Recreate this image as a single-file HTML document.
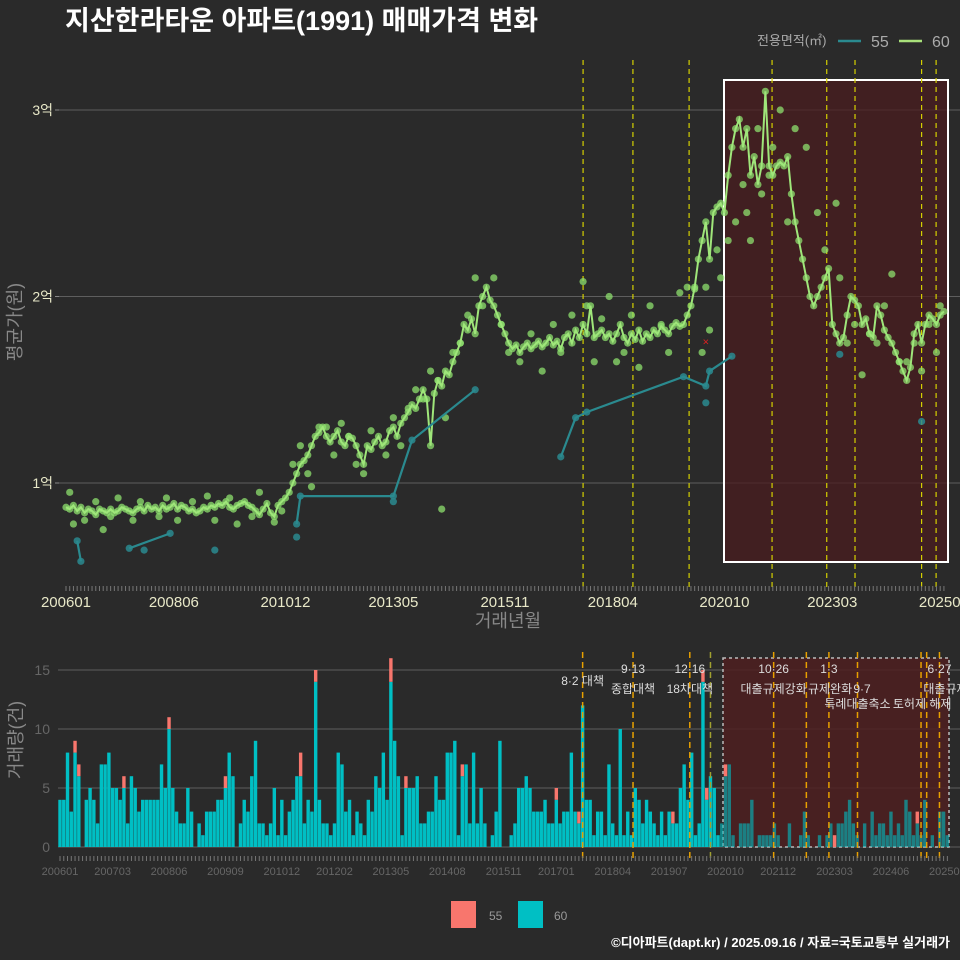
<!DOCTYPE html>
<html><head><meta charset="utf-8">
<style>
html,body{margin:0;padding:0;background:#2a2a2a;}
svg{display:block;font-family:"Liberation Sans","Noto Sans CJK KR",sans-serif;}
</style></head>
<body>
<svg id="chart" width="960" height="960" viewBox="0 0 960 960" xmlns="http://www.w3.org/2000/svg">
<rect x="0" y="0" width="960" height="960" fill="#2a2a2a"/>
<text x="65" y="30" fill="#ffffff" font-size="27" font-weight="bold">지산한라타운 아파트(1991) 매매가격 변화</text>
<g id="topPanel"></g>
<g id="botPanel"></g>
<g>
<text x="757" y="45" fill="#aaaaaa" font-size="13">전용면적(㎡)</text>
<line x1="838" y1="41" x2="861" y2="41" stroke="#2a8a8f" stroke-width="2.5"/>
<text x="871" y="47" fill="#aaaaaa" font-size="16">55</text>
<line x1="899" y1="41" x2="922" y2="41" stroke="#a8e07a" stroke-width="2.5"/>
<text x="932" y="47" fill="#aaaaaa" font-size="16">60</text>
</g>
<g>
<rect x="451" y="901" width="25" height="27" fill="#f8766d"/>
<text x="489" y="920" fill="#999" font-size="12">55</text>
<rect x="518" y="901" width="25" height="27" fill="#00bfc4"/>
<text x="554" y="920" fill="#999" font-size="12">60</text>
</g>
<text x="950" y="947" text-anchor="end" fill="#ffffff" font-size="13" font-weight="bold">©디아파트(dapt.kr) / 2025.09.16 / 자료=국토교통부 실거래가</text>
</svg>
<script>
// ---- data ----
const price60 = [
.87,.86,.88,.85,.87,.84,.86,.85,.83,.86,.85,.84,
.86,.84,.85,.87,.86,.85,.84,.86,.87,.85,.88,.86,
.87,.85,.88,.86,.87,.89,.86,.88,.87,.85,.86,.84,
.85,.87,.86,.88,.87,.89,.88,.90,.87,.86,.88,.89,
.90,.88,.87,.85,.83,.86,.89,.84,.82,.88,.90,.92,
.95,1.0,1.05,1.1,1.12,1.15,1.2,1.25,1.27,1.3,1.25,1.22,
1.25,1.28,1.22,1.2,1.25,1.24,1.2,1.15,1.1,1.2,1.18,1.22,
1.25,1.2,1.22,1.28,1.3,1.25,1.32,1.35,1.38,1.42,1.4,1.45,
1.5,1.45,1.2,1.48,1.55,1.52,1.6,1.58,1.65,1.7,1.75,1.85,
1.82,1.88,1.8,1.95,2.0,2.05,1.98,1.95,1.9,1.85,1.8,1.75,
1.72,1.74,1.7,1.73,1.75,1.72,1.74,1.76,1.73,1.75,1.78,1.74,
1.76,1.72,1.78,1.8,1.75,1.82,1.78,1.85,1.8,1.95,1.78,1.8,
1.82,1.78,1.8,1.76,1.8,1.85,1.78,1.75,1.8,1.77,1.82,1.76,
1.8,1.78,1.82,1.8,1.84,1.82,1.8,1.84,1.86,1.84,1.85,1.9,
1.95,2.05,2.2,2.3,2.4,2.2,2.45,2.48,2.5,2.45,2.65,2.8,
2.9,2.95,2.8,2.9,2.65,2.75,2.6,2.7,3.1,2.7,2.65,2.7,
2.72,2.7,2.75,2.55,2.4,2.3,2.2,2.1,2.0,1.95,2.0,2.05,
2.1,2.15,1.85,1.8,1.75,1.78,1.9,2.0,1.98,1.95,1.85,1.88,
1.8,1.78,1.95,1.9,1.82,1.78,1.75,1.7,1.65,1.6,1.55,1.62,
1.8,1.85,1.75,1.85,1.9,1.88,1.85,1.9,1.92];
const scatter60 = [[1,.95],[2,.78],[5,.8],[8,.9],[10,.75],[12,.82],[14,.92],[18,.8],[20,.9],[25,.82],[27,.92],[30,.8],[34,.9],[38,.93],[40,.8],[44,.92],[46,.78],[50,.82],[52,.95],[56,.79],[58,.85],
[61,1.1],[63,1.2],[65,1.05],[66,.98],[68,1.3],[70,1.3],[72,1.15],[74,1.32],[76,1.25],[78,1.1],[80,1.05],[82,1.28],[86,1.15],[88,1.35],[90,1.2],[92,1.4],[94,1.5],[96,1.45],[98,1.6],[100,1.55],[101,.86],[102,1.35],[104,1.7],[106,1.75],[108,1.9],[110,2.1],[112,1.95],[115,2.1],[117,1.85],[119,1.7],
[122,1.65],[125,1.8],[128,1.6],[131,1.85],[133,1.7],[136,1.9],[139,2.08],[140,1.95],[142,1.65],[144,1.88],[146,2.0],[148,1.65],[150,1.7],[152,1.9],[154,1.62],[157,1.95],[160,1.85],[162,1.7],[165,2.02],[167,2.05],[169,2.04],[171,1.7],[172,2.05],[173,1.82],
[175,2.25],[176,2.1],[178,2.3],[180,2.4],[182,2.6],[183,2.45],[184,2.3],[186,2.9],[187,2.55],[189,2.65],[190,2.8],[192,3.0],[194,2.4],[196,2.9],[199,2.8],[202,2.45],[204,2.25],[207,2.5],[208,2.1],[210,1.75],[212,1.85],[214,1.58],[216,1.8],[218,1.75],[220,1.95],[222,2.12],[224,1.65],[226,1.65],[228,1.75],[230,1.6],[232,1.85],[234,1.7],[235,1.95]];
const series55 = [[3,.69],[4,.58],null,[17,.65],[28,.73],null,[62,.78],[63,.93],[88,.93],[93,1.23],[110,1.5],null,[133,1.14],[137,1.35],[140,1.38],[166,1.57],[172,1.52],[173,1.6],[179,1.68]];
const scatter55 = [[21,.64],[40,.64],[62,.71],[88,.9],[172,1.43],[208,1.69],[230,1.33]];
const redMark = [[172,1.76]];
const priceTicks = [1,2,3];
const priceTickLabels = ["1억","2억","3억"];
const xTickLabels = ["200601","200806","201012","201305","201511","201804","202010","202303","202509"];
const xTickMonths = [0,29,59,88,118,147,177,206,236];
const volTeal = [
4,4,8,3,8,6,0,4,5,4,2,7, 7,8,5,5,4,5,2,6,5,3,4,4, 4,4,4,7,5,10,5,3,2,2,5,3,
0,2,1,3,3,3,4,4,5,8,6,0, 2,4,3,6,9,2,2,1,2,5,1,4, 1,3,4,6,6,2,4,3,14,4,2,2,
1,2,8,7,3,4,1,3,2,1,4,3, 6,5,8,4,14,9,6,1,5,5,5,6, 2,2,3,3,6,
4,4,8,8,9,1,6,7,2,8,2,5,2,0,1,3,9,0,0,1,2,5,5,6,5,3,3,3,4,2,2,4,2,3,3,8,3,2,
12,4,4,1,3,3,1,7,2,1,10,1,3,1,5,4,2,4,3,2,1,3,1,3,2,2,5,7,4,8,1,2,14,4,6,5,1,2,6,7,
1,0,2,2,2,4,0,1,1,1,1,2,1,0,0,2,0,0,1,3,1,0,0,1,0,1,2,0,2,2,3,4,2,1,0,2,0,3,1,2,2,1,3,1,2,1,4,3,1,2,1,4,0,1,0,3,3,1];
const volRed = [[4,1],[5,1],[17,1],[29,1],[44,1],[64,2],[68,1],[88,2],[92,1],[107,1],[132,1],[138,1],[163,1],[171,1],[172,1],[177,1],[206,1],[228,1]];
const volTicks = [0,5,10,15];
const volTickLabels = ["200601","200703","200806","200909","201012","201202","201305","201408","201511","201701","201804","201907","202010","202112","202303","202406","202509"];
const volTickMonths = [0,14,29,44,59,73,88,103,118,132,147,162,177,191,206,221,236];
const events = [139.0,152.4,167.5,189.8,204.5,212.1,230.0,233.9];
const eventsBottom = [139.0,152.4,167.5,173.0,189.8,198.5,204.5,212.1,229.0,230.5,233.9];
const annotations = [[139.0,680,"8·2 대책"],[152.4,668,"9·13"],[152.4,688,"종합대책"],[167.5,668,"12·16"],[167.5,688,"18차대책"],[189.8,668,"10·26"],[189.8,688,"대출규제강화"],[204.5,668,"1·3"],[204.8,688,"규제완화"],[213.3,688,"9·7"],[212.1,703,"특례대출축소"],[229.3,703,"토허제 해제"],[233.9,668,"6·27"],[235.5,688,"대출규제"]];

// ---- helpers ----
const NS="http://www.w3.org/2000/svg";
function mk(parent,tag,attrs){const e=document.createElementNS(NS,tag);for(const k in attrs)e.setAttribute(k,attrs[k]);parent.appendChild(e);return e;}
const topG=document.getElementById('topPanel'), botG=document.getElementById('botPanel');
const xT=i=>66+3.72*i, yT=v=>483-(v-1)*186.5;
const xB=i=>60+3.76*i, yB=v=>847-v*11.8;

// ---- top panel ----
priceTicks.forEach((t,k)=>{
 let g=mk(topG,'line',{x1:58,x2:960,y1:yT(t),y2:yT(t),stroke:'#5e5e5e','stroke-width':1});
 
 
 let tk=mk(topG,'line',{x1:55,x2:59,y1:yT(t),y2:yT(t),stroke:'#888'});
 
 
 let tx=mk(topG,'text',{x:53,y:yT(t)+5,'text-anchor':'end',fill:'#e8e8c8','font-size':14});
 tx.textContent=priceTickLabels[k];
 
 
});
let hb=mk(topG,'rect',{x:724,y:80,width:224,height:482,fill:'#4a1c1f',"fill-opacity":0.75,stroke:'#ffffff','stroke-width':2});


events.forEach(e=>{
 let l=mk(topG,'line',{x1:xT(e),x2:xT(e),y1:60,y2:590,stroke:'#d4d000','stroke-width':1.2,'stroke-dasharray':'5,4'});
 
 
});
for(let i=0;i<237;i++){
 let t=mk(topG,'line',{x1:xT(i),x2:xT(i),y1:586,y2:591,stroke:'#777','stroke-width':1});
 
 
}
xTickLabels.forEach((s,k)=>{
 let tx=mk(topG,'text',{x:xT(xTickMonths[k]),y:607,'text-anchor':'middle',fill:'#e8e8c8','font-size':15});
 tx.textContent=s;
 
 
});
let xt=mk(topG,'text',{x:508,y:627,'text-anchor':'middle',fill:'#888','font-size':18});
xt.textContent='거래년월';


let yt=mk(topG,'text',{x:0,y:0,'text-anchor':'middle',fill:'#888','font-size':18,transform:'translate(21,322) rotate(-90)'});
yt.textContent='평균가(원)';


scatter60.concat(price60.map((v,i)=>[i,v])).forEach(p=>{
 let c=mk(topG,'circle',{cx:xT(p[0]),cy:yT(p[1]),r:3.6,fill:'#8ee06e','fill-opacity':0.75});
 
 
});
let d='';price60.forEach((v,i)=>{d+=(i?'L':'M')+xT(i).toFixed(1)+','+yT(v).toFixed(1);});
let pl=mk(topG,'path',{d:d,fill:'none',stroke:'#9fe67a','stroke-width':2});


let d5='',pen=false;
series55.forEach(p=>{ if(!p){pen=false;return;} d5+=(pen?'L':'M')+xT(p[0]).toFixed(1)+','+yT(p[1]).toFixed(1); pen=true;});
let l5=mk(topG,'path',{d:d5,fill:'none',stroke:'#2a8a8f','stroke-width':2.2});


series55.filter(p=>p).concat(scatter55).forEach(p=>{
 let c=mk(topG,'circle',{cx:xT(p[0]),cy:yT(p[1]),r:3.6,fill:'#2a8a8f','fill-opacity':0.85});
 
 
});
redMark.forEach(p=>{
 let t=mk(topG,'text',{x:xT(p[0]),y:yT(p[1])+4,'text-anchor':'middle',fill:'#e02020','font-size':11});
 t.textContent='×';
 
 
});

// ---- bottom panel ----
volTicks.forEach(t=>{
 let g=mk(botG,'line',{x1:58,x2:960,y1:yB(t),y2:yB(t),stroke:'#5e5e5e'});
 
 
 let tx=mk(botG,'text',{x:50,y:yB(t)+5,'text-anchor':'end',fill:'#666','font-size':14});
 tx.textContent=String(t);
 
 
});
let hb2=mk(botG,'rect',{x:723,y:658,width:226,height:189,fill:'#4e1f20',"fill-opacity":0.85,stroke:'#bbbbbb','stroke-width':1.5,'stroke-dasharray':'3,3'});


volTeal.forEach((v,i)=>{
 let r=mk(botG,'rect',{x:xB(i)-1.7,y:yB(v),width:3.4,height:v*11.8,fill:'#00bfc4','fill-opacity':i>=176?0.6:1});
 
 
});
volRed.forEach(p=>{
 const base=volTeal[p[0]];
 let r=mk(botG,'rect',{x:xB(p[0])-1.7,y:yB(base+p[1]),width:3.4,height:p[1]*11.8,fill:'#f8766d'});
 
 
});
eventsBottom.forEach((e,k)=>{
 let l=mk(botG,'line',{x1:xB(e),x2:xB(e),y1:652,y2:858,stroke:k==3?'#a0a030':'#e8a000','stroke-width':1.5,'stroke-dasharray':'6,4'});
 
 
});
for(let i=0;i<237;i++){
 let t=mk(botG,'line',{x1:xB(i),x2:xB(i),y1:856,y2:861,stroke:'#777'});
 
 
}
volTickLabels.forEach((s,k)=>{
 let tx=mk(botG,'text',{x:xB(volTickMonths[k]),y:875,'text-anchor':'middle',fill:'#666','font-size':11});
 tx.textContent=s;
 
 
});
annotations.forEach(a=>{
 let tx=mk(botG,'text',{x:xB(a[0]),y:a[1]+5,'text-anchor':'middle',fill:'#dddddd','font-size':12});
 tx.textContent=a[2];
 
 
});
let vt=mk(botG,'text',{x:0,y:0,'text-anchor':'middle',fill:'#888','font-size':18,transform:'translate(22,740) rotate(-90)'});
vt.textContent='거래량(건)';


</script>
</body></html>
